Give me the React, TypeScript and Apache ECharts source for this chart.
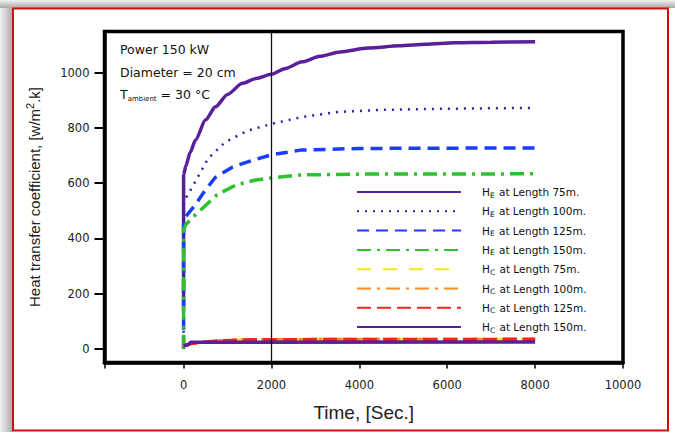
import React, { useEffect, useRef } from "react";
import * as echarts from "echarts";

// ---- data ----
const xTickValues = [0, 2000, 4000, 6000, 8000, 10000];

const heL75: [number, number][] = [[0, 150], [0, 630], [50, 662], [150, 712], [272, 757], [500, 830], [726, 877], [1000, 922], [1338, 962], [1650, 980], [2000, 995], [2300, 1015], [2700, 1040], [3100, 1060], [3560, 1076], [4200, 1090], [4920, 1098], [5500, 1104], [6170, 1109], [7000, 1111], [8000, 1113]];
const heL100: [number, number][] = [[0, 0], [0, 535], [90, 556], [220, 592], [560, 690], [940, 748], [1450, 790], [2000, 815], [2700, 840], [3500, 858], [4500, 866], [6000, 870], [8000, 873]];
const heL125: [number, number][] = [[0, 0], [0, 455], [45, 478], [268, 522], [450, 565], [715, 620], [1117, 659], [1609, 685], [2000, 703], [2660, 720], [4000, 726], [8000, 728]];
const heL150: [number, number][] = [[0, 0], [0, 430], [45, 449], [220, 478], [760, 558], [1200, 594], [1650, 612], [2056, 620], [2660, 630], [4000, 633], [8000, 634]];
const hcL75: [number, number][] = [[0, 10], [200, 20], [800, 28], [1400, 32], [3000, 33], [8000, 33]];
const hcL100: [number, number][] = [[0, 10], [200, 20], [800, 28], [1400, 32], [3000, 33], [8000, 33]];
const hcL125: [number, number][] = [[0, 10], [200, 20], [800, 28], [1400, 32], [3000, 33], [8000, 34]];
const hcL150: [number, number][] = [[0, 12], [100, 14], [160, 23], [8000, 24]];

const seriesNames = [
  "HE at Length 75m.",
  "HE at Length 100m.",
  "HE at Length 125m.",
  "HE at Length 150m.",
  "HC at Length 75m.",
  "HC at Length 100m.",
  "HC at Length 125m.",
  "HC at Length 150m.",
];
const seriesData = [heL75, heL100, heL125, heL150, hcL75, hcL100, hcL125, hcL150];
const seriesColors = ["#5a1f9a", "#2222aa", "#1a3cff", "#2ec02e", "#f2ea00", "#ff8c1a", "#ff2020", "#5a1f9a"];
const seriesDash: (string | number[])[] = ["solid", [2, 6], [12, 7], [14, 6, 3, 6], [14, 12], [14, 6, 3, 6], [14, 6], "solid"];
const seriesWidth = [3.5, 2.5, 3.5, 3.5, 3.5, 3.5, 3.5, 3.5];

const annotationLines = ["Power 150 kW", "Diameter = 20 cm"];

export default function App() {
  const ref = useRef<HTMLDivElement>(null);
  useEffect(() => {
    if (!ref.current) return;
    const chart = echarts.init(ref.current, null, { renderer: "svg" });
    const font = "DejaVu Sans";
    const series: any[] = seriesNames.map((name, i) => ({
      name,
      type: "line",
      data: seriesData[i],
      symbol: "none",
      smooth: i === 0 ? 0.25 : false,
      smoothMonotone: "x",
      color: seriesColors[i],
      lineStyle: { color: seriesColors[i], width: seriesWidth[i], type: seriesDash[i] },
      z: 3,
    }));
    series[0].markLine = {
      silent: true,
      symbol: "none",
      label: { show: false },
      lineStyle: { color: "#111", width: 1.3, type: "solid" },
      data: [{ xAxis: 2000 }],
    };
    const option: any = {
      animation: false,
      backgroundColor: "#ffffff",
      grid: {
        left: 104.5,
        right: 52,
        top: 31.5,
        bottom: 69.5,
        show: true,
        borderColor: "#000",
        borderWidth: 3.5,
        backgroundColor: "transparent",
      },
      xAxis: {
        type: "value",
        min: -1800,
        max: 10000,
        splitNumber: 6,
        name: "Time, [Sec.]",
        nameLocation: "middle",
        nameGap: 40,
        nameTextStyle: { fontFamily: "Liberation Sans", fontSize: 19, color: "#222" },
        axisLine: { show: true, onZero: false, lineStyle: { color: "#000", width: 3.5 } },
        splitLine: { show: false },
        axisTick: { show: true, inside: false, length: 6, lineStyle: { color: "#000", width: 1.5 } },
        axisLabel: {
          customValues: xTickValues,
          margin: 16,
          fontFamily: font,
          fontSize: 11.5,
          color: "#222",
          formatter: (v: number) => String(v),
        },
      },
      yAxis: {
        type: "value",
        position: "left",
        min: -50,
        max: 1150,
        splitNumber: 6,
        name: "{a|Heat transfer coefficient, [w/m}{b|2}{a|.k]}",
        nameLocation: "middle",
        nameGap: 60,
        nameRotate: 90,
        nameTextStyle: {
          rich: {
            a: { fontFamily: "Liberation Sans", fontSize: 15, color: "#222", lineHeight: 20 },
            b: { fontFamily: "Liberation Sans", fontSize: 11, color: "#222", verticalAlign: "top", lineHeight: 20, padding: [0, 0, 8, 0] },
          },
        },
        axisLine: { show: true, onZero: false, lineStyle: { color: "#000", width: 3.5 } },
        splitLine: { show: false },
        axisTick: { show: true, inside: false, length: 10, lineStyle: { color: "#000", width: 2 } },
        axisLabel: {
          showMinLabel: false,
          showMaxLabel: false,
          margin: 15,
          fontFamily: font,
          fontSize: 11.5,
          color: "#222",
          formatter: (v: number) => String(v),
        },
      },
      legend: {
        orient: "vertical",
        left: 351,
        top: 181,
        itemWidth: 104,
        itemHeight: 14,
        itemGap: 6.3,
        selectedMode: false,
        data: seriesNames,
        itemStyle: { opacity: 0, color: "transparent", borderWidth: 0 },
        formatter: (name: string) => {
          const sub = name.charAt(1);
          const rest = name.slice(2);
          return `{sp|}{h|H}{s|${sub}}{t|${rest}}`;
        },
        textStyle: {
          color: "#111",
          rich: {
            sp: { width: 16, lineHeight: 14 },
            h: { fontFamily: font, fontSize: 10.5, color: "#111", lineHeight: 14 },
            s: { fontFamily: font, fontSize: 7.5, color: "#111", lineHeight: 8, verticalAlign: "bottom", padding: [4, 1, 0, 0] },
            t: { fontFamily: font, fontSize: 10.5, color: "#111", lineHeight: 14 },
          },
        },
      },
      graphic: [
        {
          type: "rect",
          silent: true,
          z: -10,
          shape: { x: 0, y: 0, width: 13, height: 432 },
          style: {
            fill: new echarts.graphic.LinearGradient(0, 0, 1, 0, [
              { offset: 0, color: "#f2f2f2" },
              { offset: 1, color: "#a8a8a8" },
            ]),
          },
        },
        {
          type: "rect",
          silent: true,
          z: -10,
          shape: { x: 0, y: 0, width: 675, height: 8 },
          style: {
            fill: new echarts.graphic.LinearGradient(0, 0, 0, 1, [
              { offset: 0, color: "#f2f2f2" },
              { offset: 1, color: "#a8a8a8" },
            ]),
          },
        },
        {
          type: "rect",
          silent: true,
          z: -5,
          shape: { x: 13, y: 8.5, width: 655, height: 422 },
          style: { fill: "#fff", stroke: "#d01010", lineWidth: 2 },
        },
        {
          type: "text",
          silent: true,
          x: 120,
          y: 49,
          style: { text: annotationLines[0], fontFamily: font, fontSize: 12.5, fill: "#111", verticalAlign: "middle" },
        },
        {
          type: "text",
          silent: true,
          x: 120,
          y: 72,
          style: { text: annotationLines[1], fontFamily: font, fontSize: 12.5, fill: "#111", verticalAlign: "middle" },
        },
        {
          type: "text",
          silent: true,
          x: 120,
          y: 94,
          style: {
            text: "{a|T}{b|ambient}{a| = 30 °C}",
            verticalAlign: "middle",
            rich: {
              a: { fontFamily: font, fontSize: 12.5, fill: "#111", lineHeight: 16 },
              b: { fontFamily: font, fontSize: 7, fill: "#111", lineHeight: 9, verticalAlign: "bottom" },
            },
          },
        },
      ],
      series,
    };
    chart.setOption(option);
    return () => chart.dispose();
  }, []);
  return <div ref={ref} style={{ position: "fixed", left: 0, top: 0, width: 675, height: 432 }} />;
}
